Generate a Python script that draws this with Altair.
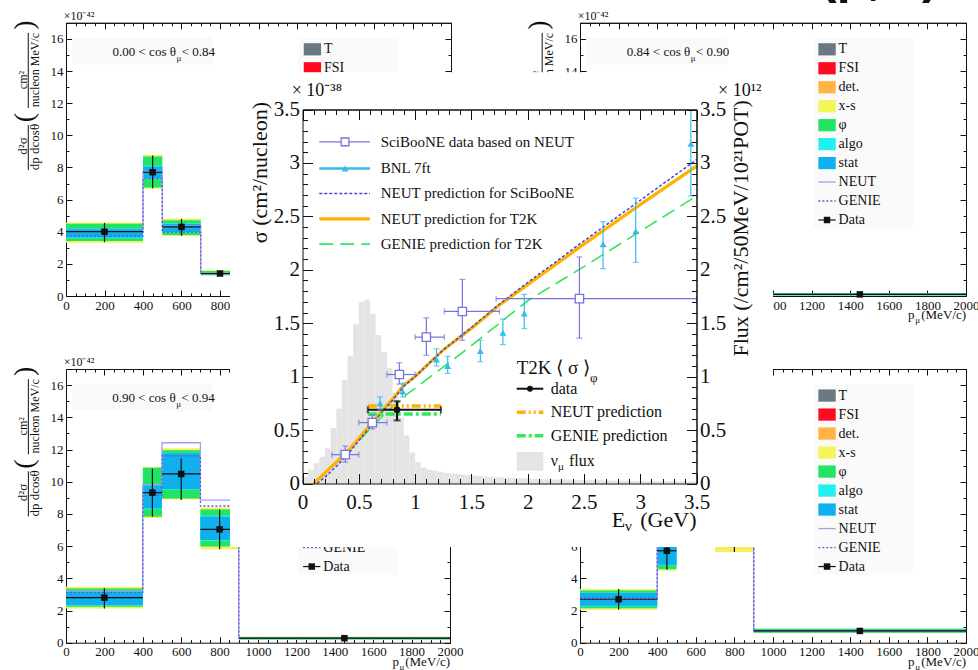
import altair as alt
import pandas as pd

W, H = 978, 670
SERIF = "Liberation Serif"
SANS = "Liberation Sans"
INK = "#111111"

# ===================== central chart data (E in GeV, sigma in 1e-38 cm2) =====================
flux_lo = [round(0.05 * i, 2) for i in range(70)]
flux_hi = [round(v + 0.05, 2) for v in flux_lo]
flux_val = [0.06, 0.13, 0.19, 0.25, 0.33, 0.52, 0.70, 0.97, 1.19, 1.49,
            1.70, 1.72, 1.59, 1.39, 1.23, 1.08, 0.85, 0.62, 0.45, 0.29,
            0.20, 0.15, 0.13, 0.12, 0.11, 0.10, 0.095, 0.09, 0.085, 0.08,
            0.075, 0.07, 0.066, 0.063, 0.06, 0.057, 0.055, 0.052, 0.05, 0.048,
            0.046, 0.044, 0.042, 0.04, 0.039, 0.037, 0.036, 0.035, 0.034, 0.033,
            0.032, 0.031, 0.03, 0.029, 0.028, 0.027, 0.027, 0.026, 0.025, 0.025,
            0.024, 0.023, 0.023, 0.022, 0.022, 0.021, 0.021, 0.02, 0.02, 0.02]

neut_t2k_E = [0.1, 0.2, 0.3, 0.4, 0.5, 0.6, 0.7, 0.8, 0.9, 1.0, 1.25, 1.5, 1.75, 2.0, 2.5, 3.0, 3.5]
neut_t2k_s = [0.0, 0.1, 0.2, 0.3, 0.42, 0.55, 0.67, 0.79, 0.92, 1.0, 1.25, 1.45, 1.67, 1.86, 2.24, 2.61, 2.97]
neut_sb_E = [0.13, 0.2, 0.3, 0.4, 0.5, 0.6, 0.7, 0.8, 0.9, 1.0, 1.25, 1.5, 1.75, 2.0, 2.5, 3.0, 3.5]
neut_sb_s = [0.0, 0.06, 0.16, 0.27, 0.40, 0.53, 0.66, 0.78, 0.91, 1.0, 1.25, 1.46, 1.68, 1.88, 2.27, 2.65, 3.03]
genie_E = [0.1, 0.2, 0.3, 0.4, 0.5, 0.6, 0.7, 0.8, 0.9, 0.92, 1.0, 1.25, 1.5, 1.75, 2.0, 2.5, 3.0, 3.5]
genie_s = [0.0, 0.1, 0.19, 0.29, 0.40, 0.51, 0.62, 0.72, 0.79, 0.83, 0.89, 1.09, 1.29, 1.50, 1.71, 2.03, 2.36, 2.69]

sb_E = [0.38, 0.62, 0.86, 1.10, 1.42, 2.46]
sb_Elo = [0.26, 0.50, 0.75, 1.00, 1.26, 1.72]
sb_Ehi = [0.50, 0.75, 1.00, 1.26, 1.75, 3.50]
sb_s = [0.27, 0.57, 1.02, 1.37, 1.61, 1.73]
sb_lo = [0.20, 0.51, 0.93, 1.20, 1.34, 1.36]
sb_hi = [0.35, 0.64, 1.13, 1.55, 1.91, 2.12]

bnl_E = [0.69, 0.89, 1.19, 1.29, 1.58, 1.78, 1.97, 2.67, 2.96, 3.45]
bnl_s = [0.75, 0.86, 1.16, 1.10, 1.24, 1.41, 1.59, 2.24, 2.36, 3.18]
bnl_lo = [0.69, 0.81, 1.10, 1.03, 1.14, 1.30, 1.45, 2.01, 2.07, 2.69]
bnl_hi = [0.81, 0.94, 1.26, 1.19, 1.34, 1.54, 1.77, 2.45, 2.67, 3.49]

t2k_E, t2k_Elo, t2k_Ehi = 0.84, 0.58, 1.23
t2k_s, t2k_slo, t2k_shi = 0.69, 0.59, 0.77
t2k_neut, t2k_genie = 0.725, 0.65

legend1_labels = ["SciBooNE data based on NEUT", "BNL 7ft", "NEUT prediction for SciBooNE",
                  "NEUT prediction for T2K", "GENIE prediction for T2K"]
legend2_labels = ["data", "NEUT prediction", "GENIE prediction"]

# ===================== background panels (p_mu in MeV/c, 1e-42 units) =====================
tl_lo = [0, 400, 500, 700]
tl_hi = [400, 500, 700, 900]
tl_pc = [200, 450, 600, 800]
tl_data = [4.0, 7.7, 4.3, 1.4]
tl_elo = [3.35, 6.7, 3.75, 1.28]
tl_ehi = [4.55, 8.75, 4.8, 1.55]
tl_xs = ([3.32, 6.68, 3.72, 1.25], [4.58, 8.78, 4.82, 1.6])
tl_phi = ([3.42, 6.75, 3.8, 1.3], [4.5, 8.68, 4.72, 1.55])
tl_algo = ([3.6, 7.25, 3.94, 1.33], [4.2, 8.12, 4.52, 1.5])
tl_stat = ([3.66, 7.32, 3.98, 1.35], [4.15, 8.05, 4.48, 1.47])
tl_neut = [4.0, 7.75, 4.35, 1.42]
tl_genie = [3.72, 7.3, 3.96, 1.38]

tr_lo, tr_hi, tr_pc = [900], [2000], [1450]
tr_data, tr_elo, tr_ehi = [0.1], [0.04], [0.16]
tr_xs = ([0.02], [0.19])
tr_phi = ([0.03], [0.18])
tr_algo = ([0.05], [0.15])
tr_stat = ([0.06], [0.14])
tr_neut, tr_genie = [0.1], [0.1]

bl_lo = [0, 400, 500, 700, 900]
bl_hi = [400, 500, 700, 900, 2000]
bl_pc = [200, 450, 600, 800, 1450]
bl_data = [2.8, 9.32, 10.48, 7.04, 0.28]
bl_elo = [2.13, 7.83, 8.86, 5.8, 0.2]
bl_ehi = [3.38, 10.8, 11.45, 8.28, 0.36]
bl_xs = ([2.13, 7.75, 8.9, 5.8, 0.18], [3.48, 10.92, 12.07, 8.39, 0.38])
bl_phi = ([2.24, 7.83, 8.95, 5.97, 0.2], [3.37, 10.87, 11.95, 8.28, 0.36])
bl_algo = ([2.3, 8.28, 9.5, 6.32, 0.22], [3.22, 9.85, 11.8, 7.9, 0.34])
bl_stat = ([2.34, 8.35, 9.55, 6.38, 0.23], [3.17, 9.8, 11.76, 7.83, 0.33])
bl_neut = [3.2, 9.8, 12.42, 8.86, 0.3]
bl_genie = [3.12, 9.17, 11.6, 8.49, 0.27]

br_lo = [0, 400, 500, 700, 900]
br_hi = [400, 500, 700, 900, 2000]
br_pc = [200, 450, 600, 800, 1450]
br_data = [2.7, 5.71, 9.6, 6.9, 0.73]
br_elo = [2.06, 4.53, 8.2, 5.63, 0.62]
br_ehi = [3.33, 6.9, 11.0, 8.2, 0.85]
br_xs = ([2.04, 4.48, 8.0, 5.63, 0.6], [3.33, 7.0, 11.2, 8.3, 0.88])
br_phi = ([2.14, 4.57, 8.2, 6.05, 0.62], [3.25, 6.9, 11.0, 8.1, 0.86])
br_algo = ([2.25, 4.8, 8.7, 6.3, 0.66], [3.12, 6.7, 10.5, 7.8, 0.82])
br_stat = ([2.29, 4.84, 8.8, 6.4, 0.67], [3.08, 6.6, 10.4, 7.7, 0.8])
br_neut = [2.7, 6.6, 11.0, 8.2, 0.75]
br_genie = [2.77, 6.4, 10.6, 7.9, 0.75]

leg_labels = ["T", "FSI", "det.", "x-s", "φ", "algo", "stat", "NEUT", "GENIE", "Data"]
leg_colors = ["#6b7882", "#ff0a20", "#ffb444", "#f5f55a", "#22e464", "#22f0f0", "#10b0ee"]

XS_C, PHI_C, ALGO_C, STAT_C = "#f3f05a", "#22e464", "#22eeee", "#10b0ee"
NEUTL_C, GENIEL_C = "#a0a0f0", "#5b5bd6"
ORANGE, GREEN, DOTBLUE = "#ffb300", "#33e65a", "#4848d0"
SB_C, BNL_C, FLUX_C = "#7474dc", "#33bbee", "#e4e4e4"


class Frame:
    def __init__(self, xdom, xr, ydom, yr):
        self.xdom, self.xr, self.ydom, self.yr = xdom, xr, ydom, yr

    def sx(self):
        return alt.Scale(domain=self.xdom, range=self.xr, nice=False, zero=False)

    def sy(self):
        return alt.Scale(domain=self.ydom, range=self.yr, nice=False, zero=False)

    def X(self, f):
        return alt.X(f, type="quantitative", scale=self.sx(), axis=None)

    def Y(self, f):
        return alt.Y(f, type="quantitative", scale=self.sy(), axis=None)


def TXT(fr, x, y, s, size, align="left", baseline="middle", angle=0, font=SERIF, weight="normal", color=INK):
    props = dict(font=font, fontSize=size, align=align, baseline=baseline, color=color)
    if weight != "normal":
        props["fontWeight"] = weight
    if angle:
        props["angle"] = angle
    d = pd.DataFrame({"x": x if isinstance(x, list) else [x],
                      "y": y if isinstance(y, list) else [y],
                      "t": s if isinstance(s, list) else [s]})
    return alt.Chart(d).mark_text(**props).encode(x=fr.X("x"), y=fr.Y("y"), text="t:N")


def RECT(fr, x0, x1, y0, y1, color):
    d = pd.DataFrame({"a": x0, "b": x1, "c": y0, "d": y1})
    return alt.Chart(d).mark_rect(color=color, strokeWidth=0).encode(
        x=fr.X("a"), x2=alt.X2("b"), y=fr.Y("c"), y2=alt.Y2("d"))


def RECTC(fr, x0, x1, y0, y1, colors):
    d = pd.DataFrame({"a": x0, "b": x1, "c": y0, "d": y1, "col": colors})
    return alt.Chart(d).mark_rect(strokeWidth=0).encode(
        x=fr.X("a"), x2=alt.X2("b"), y=fr.Y("c"), y2=alt.Y2("d"),
        color=alt.Color("col:N", scale=None))


def HR(fr, x0, x1, y, color, width, dash=None):
    d = pd.DataFrame({"a": x0, "b": x1, "y": y})
    props = dict(color=color, strokeWidth=width)
    if dash:
        props["strokeDash"] = dash
    return alt.Chart(d).mark_rule(**props).encode(x=fr.X("a"), x2=alt.X2("b"), y=fr.Y("y"))


def VR(fr, x, y0, y1, color, width):
    d = pd.DataFrame({"x": x, "a": y0, "b": y1})
    return alt.Chart(d).mark_rule(color=color, strokeWidth=width).encode(
        x=fr.X("x"), y=fr.Y("a"), y2=alt.Y2("b"))


def LINE(fr, xs, ys, color, width, dash=None, interp=None):
    d = pd.DataFrame({"x": xs, "y": ys})
    props = dict(color=color, strokeWidth=width)
    if dash:
        props["strokeDash"] = dash
    if interp:
        props["interpolate"] = interp
    return alt.Chart(d).mark_line(**props).encode(x=fr.X("x"), y=fr.Y("y"))


def PTS(fr, xs, ys, shape, size, fill, stroke=None, sw=1.0):
    d = pd.DataFrame({"x": xs, "y": ys})
    props = dict(shape=shape, size=size, filled=True, fill=fill, opacity=1, fillOpacity=1)
    if stroke:
        props["stroke"] = stroke
        props["strokeWidth"] = sw
    else:
        props["strokeWidth"] = 0
    return alt.Chart(d).mark_point(**props).encode(x=fr.X("x"), y=fr.Y("y"))


def CAPS(fr, xs, ys, orient, color, size=6, width=1.2):
    d = pd.DataFrame({"x": xs, "y": ys})
    return alt.Chart(d).mark_tick(orient=orient, size=size, thickness=width, color=color).encode(
        x=fr.X("x"), y=fr.Y("y"))


def axes(fr, xmaj, xmin, ymaj, ymin, lsize, xpad, ypad, tmaj, tmin, z, fmt, right_labels=False):
    x0, x1 = fr.xr
    yb, yt = fr.yr
    base = alt.Chart(pd.DataFrame({"x": [fr.xdom[0]], "y": [fr.ydom[0]]})).mark_point(opacity=0)
    st = dict(grid=False, zindex=z, title=None, domainColor=INK, tickColor=INK,
              domainWidth=1, tickWidth=1, labelColor=INK, labelFont=SERIF,
              labelFontSize=lsize, labelFlush=False, labelOverlap=False, format=fmt)

    def enc(ax, ay):
        return base.encode(x=alt.X("x:Q", scale=fr.sx(), axis=ax),
                           y=alt.Y("y:Q", scale=fr.sy(), axis=ay))

    out = [enc(alt.Axis(orient="bottom", offset=yb - H, values=xmaj, ticks=False, labelPadding=xpad, **st),
               alt.Axis(orient="left", offset=-x0, values=ymaj, ticks=False, labelPadding=ypad, **st))]
    for vx, vy, ln in ((xmaj, ymaj, tmaj), (xmin, ymin, tmin)):
        out.append(enc(alt.Axis(orient="top", offset=-yb, values=vx, tickSize=ln, domain=False, labels=False, **st),
                       alt.Axis(orient="right", offset=x0 - W, values=vy, tickSize=ln, domain=False, labels=False, **st)))
        out.append(enc(alt.Axis(orient="bottom", offset=yt - H, values=vx, tickSize=ln, labels=False, **st),
                       alt.Axis(orient="left", offset=-x1, values=vy, tickSize=ln, labels=False, **st)))
    if right_labels:
        out.append(base.encode(
            x=alt.X("x:Q", scale=fr.sx(), axis=None),
            y=alt.Y("y:Q", scale=fr.sy(),
                    axis=alt.Axis(orient="right", offset=x1 - W, values=ymaj, ticks=False, domain=False,
                                  labelPadding=ypad, **st))))
    return out


# ---------------- panel builder ----------------
P_XMAJ = [200 * i for i in range(11)]
P_XMIN = [50 * i for i in range(41)]
P_YMAJ = [2 * i for i in range(9)]
P_YMIN = [0.5 * i for i in range(35)]


def panel(fr, lo, hi, pc, data, elo, ehi, xs, phi, algo, stat, neut, genie, c_lo, c_hi):
    L = []
    L.append(RECT(fr, [31], [764], [14.4], [16.1], "#f9f9f9"))
    L.append(RECT(fr, [1207], [1725], [4.23], [16.05], "#fafafa"))
    L.append(RECT(fr, lo, hi, xs[0], xs[1], XS_C))
    L.append(RECT(fr, lo, hi, phi[0], phi[1], PHI_C))
    L.append(RECT(fr, lo, hi, algo[0], algo[1], ALGO_C))
    L.append(RECT(fr, lo, hi, stat[0], stat[1], STAT_C))
    edges = lo + [hi[-1]]
    L.append(LINE(fr, edges, neut + [neut[-1]], NEUTL_C, 1.3, interp="step-after"))
    L.append(LINE(fr, edges, genie + [genie[-1]], GENIEL_C, 1.3, dash=[2, 2], interp="step-after"))
    L.append(HR(fr, lo, hi, data, INK, 1.2))
    L.append(VR(fr, pc, elo, ehi, INK, 1.2))
    L.append(PTS(fr, pc, data, "square", 42, INK))
    # multiplier and cut label
    L.append(TXT(fr, -12, 17.45, "×10⁻⁴²", 12))
    L.append(TXT(fr, 571, 15.2, c_lo + " < cos θ", 13, align="right"))
    L.append(TXT(fr, 574, 14.8, "μ", 9))
    L.append(TXT(fr, 601, 15.2, "< " + c_hi, 13))
    # y title (rotated fraction)
    L.append(TXT(fr, -223, 9.33, "d²σ", 13, align="center", angle=270))
    L.append(TXT(fr, -161, 9.27, "dp dcosθ", 13, align="center", angle=270))
    L.append(VR(fr, [-196], [7.84], [10.64], INK, 1))
    L.append(TXT(fr, -223, 13.44, "cm²", 12, align="center", angle=270))
    L.append(TXT(fr, -161, 14.06, "nucleon MeV/c", 12, align="center", angle=270))
    L.append(VR(fr, [-196], [11.7], [16.37], INK, 1))
    L.append(TXT(fr, -213, 11.1, "(", 28, align="center", angle=270))
    L.append(TXT(fr, -213, 16.86, ")", 28, align="center", angle=270))
    # x title
    L.append(TXT(fr, 1700, -1.2, "p", 13))
    L.append(TXT(fr, 1737, -1.5, "μ", 9))
    L.append(TXT(fr, 2000, -1.2, "(MeV/c)", 13, align="right"))
    # legend
    lv = [15.35, 14.17, 12.99, 11.81, 10.63, 9.45, 8.27, 7.09, 5.91, 4.73]
    L.append(RECTC(fr, [1235] * 7, [1325] * 7, [v - 0.38 for v in lv[:7]], [v + 0.38 for v in lv[:7]], leg_colors))
    L.append(HR(fr, [1235], [1325], [lv[7]], NEUTL_C, 1.3))
    L.append(HR(fr, [1235], [1325], [lv[8]], GENIEL_C, 1.3, dash=[2, 2]))
    L.append(HR(fr, [1235], [1325], [lv[9]], INK, 1.2))
    L.append(PTS(fr, [1280], [lv[9]], "square", 42, INK))
    L.append(TXT(fr, [1340] * 10, lv, leg_labels, 14))
    return alt.layer(*L)


TL = Frame([0, 2000], [66, 451], [0, 17], [296, 22.8])
TR = Frame([0, 2000], [580, 966], [0, 17], [296, 22.8])
BL = Frame([0, 2000], [66, 450], [0, 17], [642.7, 369])
BR = Frame([0, 2000], [580, 966], [0, 17], [642.7, 369])
CF = Frame([0, 3.5], [302.5, 696.5], [0, 3.5], [483.5, 109.5])

layers = []
for fr, args, cl, ch in (
        (TL, (tl_lo, tl_hi, tl_pc, tl_data, tl_elo, tl_ehi, tl_xs, tl_phi, tl_algo, tl_stat, tl_neut, tl_genie), "0.00", "0.84"),
        (TR, (tr_lo, tr_hi, tr_pc, tr_data, tr_elo, tr_ehi, tr_xs, tr_phi, tr_algo, tr_stat, tr_neut, tr_genie), "0.84", "0.90"),
        (BL, (bl_lo, bl_hi, bl_pc, bl_data, bl_elo, bl_ehi, bl_xs, bl_phi, bl_algo, bl_stat, bl_neut, bl_genie), "0.90", "0.94"),
        (BR, (br_lo, br_hi, br_pc, br_data, br_elo, br_ehi, br_xs, br_phi, br_algo, br_stat, br_neut, br_genie), "0.94", "0.98")):
    layers += axes(fr, P_XMAJ, P_XMIN, P_YMAJ, P_YMIN, 13, 3, 3, 6, 3, 0, "d")
    layers.append(panel(fr, *args, cl, ch))

# ---------------- central chart ----------------
C = []
# page title, almost entirely above the visible area (only descenders show)
C.append(TXT(CF, 1.799, 4.59, "Energy", 34, align="right", baseline="alphabetic", font=SANS, weight="bold"))
C.append(TXT(CF, 4.597, 4.59, "(p, θ)", 50, baseline="alphabetic", font=SANS, weight="bold"))
C.append(RECT(CF, [-0.644], [4.18], [-0.594], [3.849], "white"))
C.append(RECT(CF, flux_lo, flux_hi, [0] * len(flux_lo), flux_val, FLUX_C))
C.append(LINE(CF, genie_E, genie_s, GREEN, 1.6, dash=[14, 7]))
C.append(LINE(CF, neut_t2k_E, neut_t2k_s, ORANGE, 3.2))
C.append(LINE(CF, neut_sb_E, neut_sb_s, DOTBLUE, 1.5, dash=[3, 2]))
# T2K flux-averaged
C.append(HR(CF, [t2k_Elo], [t2k_Ehi], [t2k_neut], ORANGE, 3.5, dash=[9, 3, 2, 3, 2, 3]))
C.append(HR(CF, [t2k_Elo], [t2k_Ehi], [t2k_genie], GREEN, 3.5, dash=[9, 3, 3, 3]))
C.append(HR(CF, [t2k_Elo], [t2k_Ehi], [t2k_s], INK, 2.2))
C.append(VR(CF, [t2k_E], [t2k_slo], [t2k_shi], INK, 2.2))
C.append(CAPS(CF, [t2k_E, t2k_E], [t2k_slo, t2k_shi], "horizontal", INK, 7, 2))
C.append(CAPS(CF, [t2k_Elo, t2k_Ehi], [t2k_s, t2k_s], "vertical", INK, 7, 2))
C.append(PTS(CF, [t2k_E], [t2k_s], "circle", 45, INK))
# SciBooNE
C.append(HR(CF, sb_Elo, sb_Ehi, sb_s, SB_C, 1.2))
C.append(VR(CF, sb_E, sb_lo, sb_hi, SB_C, 1.2))
C.append(CAPS(CF, sb_E + sb_E, sb_lo + sb_hi, "horizontal", SB_C))
C.append(CAPS(CF, sb_Elo + sb_Ehi, sb_s + sb_s, "vertical", SB_C))
C.append(PTS(CF, sb_E, sb_s, "square", 70, "white", SB_C, 1.3))
# BNL
C.append(VR(CF, bnl_E, bnl_lo, bnl_hi, BNL_C, 1.2))
C.append(CAPS(CF, bnl_E + bnl_E, bnl_lo + bnl_hi, "horizontal", BNL_C))
C.append(PTS(CF, bnl_E, bnl_s, "triangle-up", 48, BNL_C))
# legend 1
l1y = [3.197, 2.948, 2.714, 2.477, 2.24]
C.append(HR(CF, [0.149], [0.60], [l1y[0]], SB_C, 1.2))
C.append(PTS(CF, [0.378], [l1y[0]], "square", 60, "white", SB_C, 1.3))
C.append(HR(CF, [0.149], [0.60], [l1y[1]], BNL_C, 2.5))
C.append(PTS(CF, [0.378], [l1y[1]], "triangle-up", 45, BNL_C))
C.append(HR(CF, [0.149], [0.60], [l1y[2]], DOTBLUE, 1.5, dash=[3, 2]))
C.append(HR(CF, [0.149], [0.60], [l1y[3]], ORANGE, 3.2))
C.append(HR(CF, [0.149], [0.60], [l1y[4]], GREEN, 1.6, dash=[14, 7]))
C.append(TXT(CF, [0.695] * 5, l1y, legend1_labels, 15))
# legend 2
l2y = [0.887, 0.666, 0.447]
C.append(TXT(CF, 1.903, 1.08, "T2K ⟨ σ ⟩", 19))
C.append(TXT(CF, 2.554, 0.985, "φ", 13))
C.append(HR(CF, [1.903], [2.139], [l2y[0]], INK, 2))
C.append(PTS(CF, [2.021], [l2y[0]], "circle", 35, INK))
C.append(HR(CF, [1.903], [2.139], [l2y[1]], ORANGE, 3.5, dash=[9, 3, 2, 3, 2, 3]))
C.append(HR(CF, [1.903], [2.139], [l2y[2]], GREEN, 3.5, dash=[9, 3, 3, 3]))
C.append(RECT(CF, [1.903], [2.139], [0.12], [0.297], FLUX_C))
C.append(TXT(CF, [2.205] * 3, l2y, legend2_labels, 16))
C.append(TXT(CF, 2.205, 0.21, "ν", 16))
C.append(TXT(CF, 2.27, 0.15, "μ", 11))
C.append(TXT(CF, 2.367, 0.21, "flux", 16))
# axis titles and multipliers
C.append(TXT(CF, -0.375, 3.571, "σ (cm²/nucleon)", 22, align="right", angle=270))
C.append(TXT(CF, -0.096, 3.67, "× 10⁻³⁸", 18))
C.append(TXT(CF, 3.691, 3.67, "× 10¹²", 18))
C.append(TXT(CF, 3.895, 3.587, "Flux (/cm²/50MeV/10²¹POT)", 22, align="right", angle=270))
C.append(TXT(CF, 2.747, -0.34, "E", 22))
C.append(TXT(CF, 2.865, -0.40, "ν", 15))
C.append(TXT(CF, 3.5, -0.34, "(GeV)", 22, align="right"))
layers.append(alt.layer(*C))

C_MAJ = [0, 0.5, 1, 1.5, 2, 2.5, 3, 3.5]
C_MIN = [round(0.1 * i, 1) for i in range(36)]
layers += axes(CF, C_MAJ, C_MIN, C_MAJ, C_MIN, 21, 8, 3, 10, 5, 1, "~g", right_labels=True)

chart = alt.layer(*layers).resolve_scale(x="independent", y="independent").properties(
    width=W, height=H, padding=0, background="white",
    autosize=alt.AutoSizeParams(type="none"),
).configure_view(strokeWidth=0)

chart.save("out.html", embed_options={"renderer": "svg", "actions": False})
